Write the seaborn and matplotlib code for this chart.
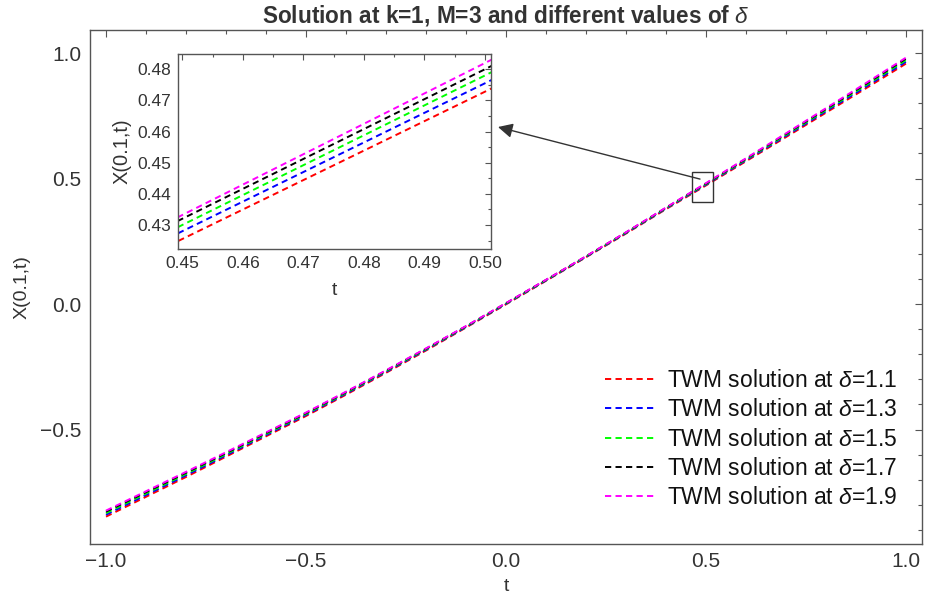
import numpy as np
import pandas as pd
import matplotlib
matplotlib.use("Agg")
import matplotlib.pyplot as plt
import matplotlib.patches as mpatches
from matplotlib.ticker import MultipleLocator, FuncFormatter
from matplotlib.lines import Line2D
import seaborn as sns

# ---------------- data ----------------
t = [-1.0, -0.9, -0.8, -0.7, -0.6, -0.5, -0.4, -0.3, -0.2, -0.1, 0.0,
     0.1, 0.2, 0.3, 0.4, 0.45, 0.5, 0.6, 0.7, 0.8, 0.9, 1.0]

x_d11 = [-0.847, -0.768, -0.689, -0.608, -0.527, -0.446, -0.361, -0.274, -0.185, -0.0935, -0.001,
         0.0927, 0.1867, 0.2811, 0.3782, 0.4255, 0.4728, 0.569, 0.6653, 0.7626, 0.8598, 0.9581]
x_d13 = [-0.8395, -0.7609, -0.6824, -0.6029, -0.5223, -0.4418, -0.3572, -0.2707, -0.1822, -0.0916, 0.0006,
         0.0939, 0.1879, 0.2826, 0.3802, 0.428, 0.4755, 0.5728, 0.6699, 0.7681, 0.8663, 0.9655]
x_d15 = [-0.833, -0.755, -0.677, -0.598, -0.518, -0.438, -0.354, -0.268, -0.180, -0.090, 0.002,
         0.095, 0.189, 0.284, 0.382, 0.430, 0.478, 0.576, 0.674, 0.773, 0.872, 0.972]
x_d17 = [-0.8272, -0.7497, -0.6722, -0.5937, -0.5142, -0.4346, -0.3511, -0.2656, -0.1781, -0.0886, 0.0032,
         0.096, 0.190, 0.2852, 0.3836, 0.432, 0.480, 0.5789, 0.6776, 0.7773, 0.877, 0.9778]
x_d19 = [-0.8229, -0.7458, -0.6686, -0.5904, -0.5113, -0.4321, -0.349, -0.2638, -0.1766, -0.0875, 0.0041,
         0.0967, 0.1907, 0.2861, 0.3847, 0.4332, 0.482, 0.581, 0.6803, 0.7806, 0.8808, 0.9821]

deltas = ["1.1", "1.3", "1.5", "1.7", "1.9"]
series = [x_d11, x_d13, x_d15, x_d17, x_d19]
colors = ["#ff0000", "#0000ff", "#00ff00", "#000000", "#ff00ff"]

main_xticks = [-1.0, -0.5, 0.0, 0.5, 1.0]
main_yticks = [-0.5, 0.0, 0.5, 1.0]
inset_xticks = [0.45, 0.46, 0.47, 0.48, 0.49, 0.50]
inset_yticks = [0.43, 0.44, 0.45, 0.46, 0.47, 0.48]

title = "Solution at k=1, M=3 and different values of $\\delta$"

# ---------------- long table ----------------
labels = [f"TWM solution at $\\delta$={d}" for d in deltas]
df = pd.DataFrame({
    "t": np.tile(t, len(series)),
    "X": np.concatenate(series),
    "series": np.repeat(labels, len(t)),
})

sns.set_style("white")
plt.rcParams["font.family"] = ["Liberation Sans", "DejaVu Sans"]
plt.rcParams["mathtext.fontset"] = "custom"
plt.rcParams["mathtext.it"] = "Liberation Sans:italic"
plt.rcParams["mathtext.rm"] = "Liberation Sans"
plt.rcParams["mathtext.bf"] = "Liberation Sans:bold"

txt = "#333333"
frame = "#555555"
dash = (3.2, 2.2)
lw = 1.4

fig = plt.figure(figsize=(9.34, 6.0), dpi=100)
ax = fig.add_axes([90 / 934, 1 - 544 / 600, (922 - 90) / 934, (544 - 30) / 600])

palette = dict(zip(labels, colors))
dashes = {lab: dash for lab in labels}
sns.lineplot(data=df, x="t", y="X", hue="series", style="series", palette=palette,
             dashes=dashes, linewidth=lw, ax=ax, legend=False, sort=True, estimator=None)

ax.set_xlim(-1.04, 1.04)
ax.set_ylim(-0.956, 1.092)


def make_fmt(nd):
    def f(v, pos):
        s = f"{v:.{nd}f}"
        if s.startswith("-"):
            if float(s) == 0:
                s = s[1:]
            else:
                s = "\u2212" + s[1:]
        return s
    return FuncFormatter(f)


def style_axes(a, fs, xt, yt, xminor, yminor, nd):
    a.set_xticks(xt)
    a.set_yticks(yt)
    a.xaxis.set_minor_locator(MultipleLocator(xminor))
    a.yaxis.set_minor_locator(MultipleLocator(yminor))
    a.xaxis.set_major_formatter(make_fmt(nd))
    a.yaxis.set_major_formatter(make_fmt(nd))
    a.tick_params(which="both", direction="in", top=True, right=True,
                  color=frame, labelcolor=txt, labelsize=fs, width=0.8)
    a.tick_params(which="major", length=5, pad=6)
    a.tick_params(which="minor", length=3)
    for s in a.spines.values():
        s.set_color(frame)
        s.set_linewidth(1.0)


style_axes(ax, 15, main_xticks, main_yticks, 0.1, 0.1, 1)
ax.set_xlabel("t", fontsize=14, color=txt, labelpad=5)
ax.set_ylabel("X(0.1,t)", fontsize=14, color=txt, labelpad=7)
fig.text(506 / 934, 1 - 15 / 600, title, ha="center", va="center",
         fontsize=16.3, fontweight="bold", color=txt)

# legend
handles = [Line2D([0], [0], color=c, linestyle=(0, dash), linewidth=lw) for c in colors]
leg = ax.legend(handles, labels, loc="lower right", bbox_to_anchor=(0.995, 0.028),
                frameon=False, fontsize=16.5, handlelength=2.15, handletextpad=0.55,
                labelspacing=0.27)
for tx in leg.get_texts():
    tx.set_color("#111111")

# marker rectangle and arrow
ax.add_patch(mpatches.Rectangle((0.465, 0.406), 0.0525, 0.12, fill=False,
                                edgecolor="#333333", linewidth=1.0, zorder=5))
ax.annotate("", xy=(498 / 934, 1 - 127 / 600), xycoords="figure fraction",
            xytext=(0.485, 0.498), textcoords="data",
            arrowprops=dict(arrowstyle="-|>", color="#333333", lw=1.0,
                            mutation_scale=22, shrinkA=0, shrinkB=0), zorder=6)

# inset
axi = fig.add_axes([178 / 934, 1 - 249 / 600, (491 - 178) / 934, (249 - 54) / 600])
sns.lineplot(data=df, x="t", y="X", hue="series", style="series", palette=palette,
             dashes=dashes, linewidth=lw, ax=axi, legend=False, sort=True, estimator=None)
axi.set_xlim(0.4493, 0.5010)
axi.set_ylim(0.4223, 0.4849)
style_axes(axi, 12.5, inset_xticks, inset_yticks, 0.005, 0.005, 2)
axi.tick_params(which="major", length=4, pad=5)
axi.tick_params(which="minor", length=2)
axi.set_xlabel("t", fontsize=14, color=txt, labelpad=8)
axi.set_ylabel("X(0.1,t)", fontsize=14.5, color=txt, labelpad=4)
axi.set_facecolor("white")

fig.savefig("out.png", dpi=100)
